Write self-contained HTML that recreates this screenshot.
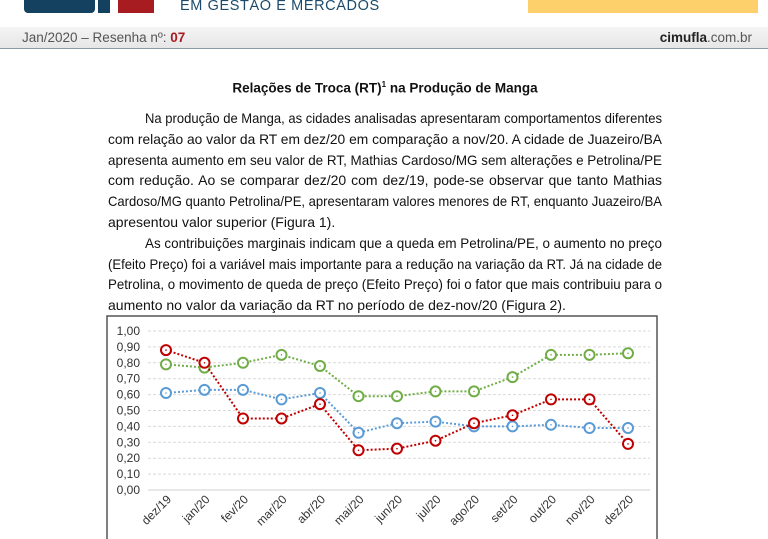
<!DOCTYPE html>
<html><head><meta charset="utf-8">
<style>
body{margin:0;width:768px;height:539px;overflow:hidden;background:#fff;position:relative;font-family:"Liberation Sans",sans-serif}
.abs{position:absolute}
.ln{position:absolute;left:108px;width:554px;font-size:14px;color:#111;white-space:nowrap;transform-origin:0 50%;height:18px;line-height:18px}
</style></head><body>
<div class="abs" style="left:24px;top:0;width:71px;height:13px;background:#13415f;border-radius:0 0 4px 4px"></div>
<div class="abs" style="left:98px;top:0;width:12px;height:13px;background:#13415f"></div>
<div class="abs" style="left:118px;top:0;width:36px;height:13px;background:#a71c20"></div>
<div class="abs" style="left:180px;top:-2px;font-size:14.5px;color:#1d4a6a;letter-spacing:0.6px">EM GESTÃO E MERCADOS</div>
<div class="abs" style="left:528px;top:0;width:230px;height:13px;background:#fdd06b"></div>
<div class="abs" style="left:0;top:27px;width:768px;height:21px;background:linear-gradient(#f4f4f4,#e6e6e6);border-bottom:1.5px solid #8a9aa4"></div>
<div class="abs" style="left:22px;top:30px;font-size:13.5px;color:#555">Jan/2020 – Resenha nº: <b style="color:#a71c20">07</b></div>
<div class="abs" style="right:16px;top:30px;font-size:13.5px;color:#555"><b style="color:#222">cimufla</b>.com.br</div>
<div class="abs" style="left:0;width:770px;top:80px;text-align:center;font-size:13.5px;font-weight:bold;color:#111">Relações de Troca (RT)<sup style="font-size:8px">1</sup> na Produção de Manga</div>
<div id="body">
<div class="ln j" style="top:109px;left:145px;width:517px">Na produção de Manga, as cidades analisadas apresentaram comportamentos diferentes</div>
<div class="ln j" style="top:130px">com relação ao valor da RT em dez/20 em comparação a nov/20. A cidade de Juazeiro/BA</div>
<div class="ln j" style="top:151px">apresenta aumento em seu valor de RT, Mathias Cardoso/MG sem alterações e Petrolina/PE</div>
<div class="ln j" style="top:171px">com redução. Ao se comparar dez/20 com dez/19, pode-se observar que tanto Mathias</div>
<div class="ln j" style="top:192px">Cardoso/MG quanto Petrolina/PE, apresentaram valores menores de RT, enquanto Juazeiro/BA</div>
<div class="ln" style="top:213px">apresentou valor superior (Figura 1).</div>
<div class="ln j" style="top:234px;left:145px;width:517px">As contribuições marginais indicam que a queda em Petrolina/PE, o aumento no preço</div>
<div class="ln j" style="top:255px">(Efeito Preço) foi a variável mais importante para a redução na variação da RT. Já na cidade de</div>
<div class="ln j" style="top:275px">Petrolina, o movimento de queda de preço (Efeito Preço) foi o fator que mais contribuiu para o</div>
<div class="ln" style="top:296px">aumento no valor da variação da RT no período de dez-nov/20 (Figura 2).</div>
</div>
<svg class="abs" style="left:0;top:0" width="768" height="539" id="chart">
<rect x="107" y="316" width="550" height="240" fill="none" stroke="#555" stroke-width="1.5"/>
<g id="grid"></g><g id="series"></g><g id="xl"></g>
</svg>
<script>
const categories=["dez/19","jan/20","fev/20","mar/20","abr/20","mai/20","jun/20","jul/20","ago/20","set/20","out/20","nov/20","dez/20"];
const yTicks=[0,0.1,0.2,0.3,0.4,0.5,0.6,0.7,0.8,0.9,1.0];
const greenValues=[0.79,0.77,0.80,0.85,0.78,0.59,0.59,0.62,0.62,0.71,0.85,0.85,0.86];
const blueValues=[0.61,0.63,0.63,0.57,0.61,0.36,0.42,0.43,0.40,0.40,0.41,0.39,0.39];
const redValues=[0.88,0.80,0.45,0.45,0.54,0.25,0.26,0.31,0.42,0.47,0.57,0.57,0.29];
const NS="http://www.w3.org/2000/svg";
const x=i=>166+i*(628-166)/(categories.length-1);
const y=v=>490-v*159;
function mk(t,a,p){const e=document.createElementNS(NS,t);for(const k in a)e.setAttribute(k,a[k]);p.appendChild(e);return e;}
const grid=document.getElementById('grid');
yTicks.forEach(t=>{
  const l=mk('line',{x1:148,x2:650,y1:y(t),y2:y(t),stroke:t===0?'#d0d0d0':'#d9d9d9','stroke-width':1,'stroke-dasharray':t===0?'':'3,2'},grid);
  
  
  const tx=mk('text',{x:140,y:y(t)+4,'text-anchor':'end','font-size':'12','fill':'#333','font-family':'Liberation Sans, sans-serif'},grid);
  tx.textContent=t.toFixed(2).replace('.',',');
  
  
});
const xl=document.getElementById('xl');
categories.forEach((c,i)=>{
  const t=mk('text',{x:x(i)+6,y:500,'text-anchor':'end','font-size':'12','fill':'#333','font-family':'Liberation Sans, sans-serif',transform:`rotate(-45 ${x(i)+6} 500)`},xl);
  t.textContent=c;
  
  
});
const sg=document.getElementById('series');
[[greenValues,'#70ad47','series-green'],[blueValues,'#5b9bd5','series-blue'],[redValues,'#c00000','series-red']].forEach(([vals,col,name])=>{
  const p=mk('polyline',{points:vals.map((v,i)=>x(i)+','+y(v)).join(' '),fill:'none',stroke:col,'stroke-width':2,'stroke-dasharray':'2,2'},sg);
  
  
  vals.forEach((v,i)=>{
    const c=mk('circle',{cx:x(i),cy:y(v),r:5,fill:'#fff',stroke:col,'stroke-width':2},sg);
    
    
    mk('circle',{cx:x(i),cy:y(v),r:0.8,fill:col},sg);
  });
});
document.querySelectorAll('.ln').forEach(el=>{
  const j=el.classList.contains('j');
  const w=parseFloat(el.style.width)||554;
  const s=document.createElement('span');s.innerHTML=el.innerHTML;el.innerHTML='';el.appendChild(s);
  const words=s.textContent.split(' ');const nat=s.getBoundingClientRect().width;
  if(nat>w){el.style.transform='scaleX('+(w/nat)+')';}
  else if(j&&words.length>1){el.style.wordSpacing=((w-nat)/(words.length-1))+'px';}
});
</script>
</body></html>
